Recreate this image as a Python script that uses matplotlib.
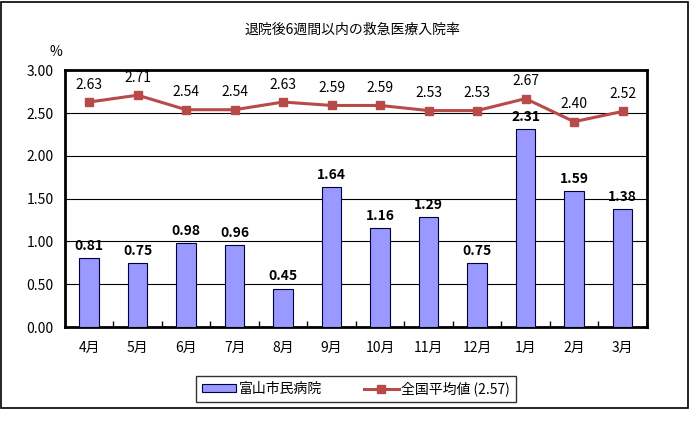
import matplotlib
matplotlib.use("Agg")
import matplotlib.pyplot as plt
from matplotlib.patches import Rectangle
import numpy as np

plt.rcParams['font.family'] = ['Noto Sans CJK JP', 'DejaVu Sans']

months = ["4月", "5月", "6月", "7月", "8月", "9月", "10月", "11月", "12月", "1月", "2月", "3月"]
hospital = [0.81, 0.75, 0.98, 0.96, 0.45, 1.64, 1.16, 1.29, 0.75, 2.31, 1.59, 1.38]
national = [2.63, 2.71, 2.54, 2.54, 2.63, 2.59, 2.59, 2.53, 2.53, 2.67, 2.40, 2.52]
yticks = [0.0, 0.5, 1.0, 1.5, 2.0, 2.5, 3.0]

fig = plt.figure(figsize=(6.91, 4.44), dpi=100)
ax = fig.add_axes([0.094, 0.2635, 0.842, 0.578])

x = np.arange(len(months))
bars = ax.bar(x, hospital, width=0.4, color="#9999FF", edgecolor="#000040",
              linewidth=0.8, zorder=3, label="富山市民病院")
line, = ax.plot(x, national, color="#B84A4A", linewidth=2.2, marker="s",
                markersize=6, zorder=4, label="全国平均値 (2.57)")

for xi, v in zip(x, hospital):
    ax.text(xi, v + 0.06, f"{v:.2f}", ha="center", va="bottom",
            fontsize=10, fontweight="bold", zorder=5)
for xi, v in zip(x, national):
    ax.text(xi, v + 0.12, f"{v:.2f}", ha="center", va="bottom",
            fontsize=10, zorder=5)

ax.set_xlim(-0.5, len(months) - 0.5)
ax.set_ylim(0, 3.0)
ax.set_yticks(yticks)
ax.set_yticklabels([f"{t:.2f}" for t in yticks], fontsize=10)
ax.yaxis.grid(True, color="black", linewidth=0.8, zorder=0)
ax.tick_params(axis="y", length=0, pad=8)

ax.set_xticks(x)
ax.set_xticklabels(months, fontsize=10)
ax.set_xticks(np.arange(len(months) + 1) - 0.5, minor=True)
ax.tick_params(axis="x", which="major", length=0, pad=10)
ax.tick_params(axis="x", which="minor", direction="in", length=4, width=1)

for s in ax.spines.values():
    s.set_linewidth(2)
    s.set_color("black")

fig.text(0.51, 0.932, "退院後6週間以内の救急医療入院率", ha="center", va="center", fontsize=10)
fig.text(0.081, 0.883, "%", ha="center", va="center", fontsize=10)

leg = fig.legend(handles=[bars, line], loc="center", bbox_to_anchor=(0.515, 0.124),
                 ncol=2, frameon=True, fancybox=False, fontsize=10,
                 handlelength=2.5, handleheight=0.5, handletextpad=0.2,
                 columnspacing=3, borderpad=0.4)
leg.get_frame().set_edgecolor("black")
leg.get_frame().set_linewidth(1)

fig.patches.append(Rectangle((1 / 691, 36 / 444), 687 / 691, 406 / 444,
                             transform=fig.transFigure, fill=False,
                             edgecolor="black", linewidth=1.2))

fig.savefig("out.png", dpi=100)
